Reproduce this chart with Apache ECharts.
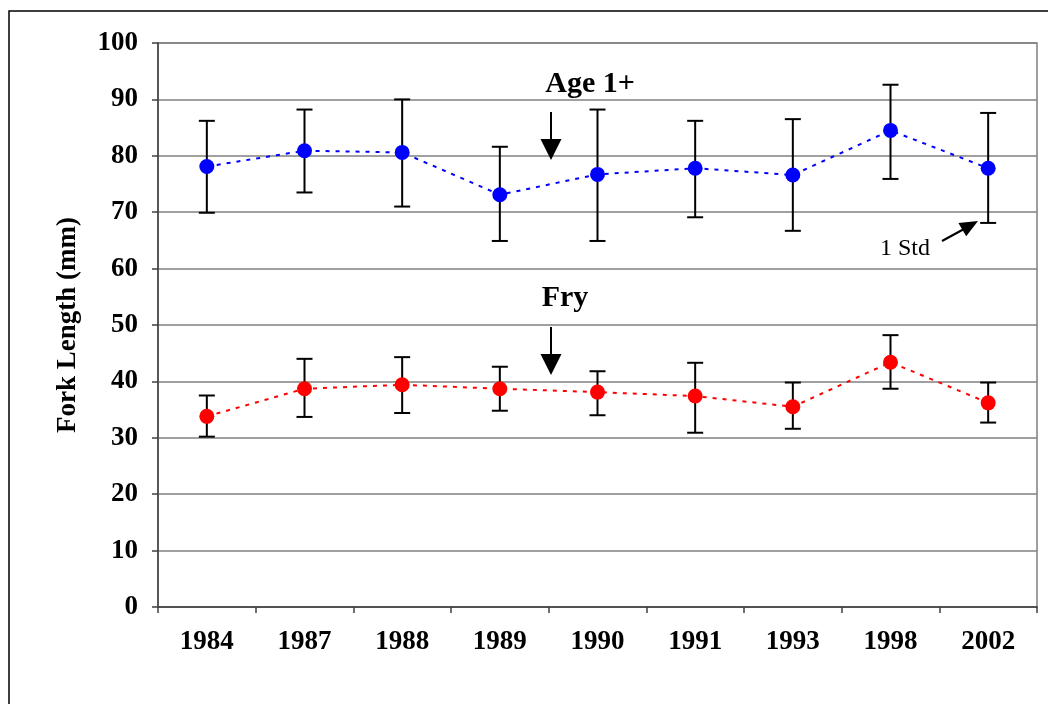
<!DOCTYPE html>
<html>
<head>
<meta charset="utf-8">
<script src="https://cdn.jsdelivr.net/npm/echarts@6/dist/echarts.min.js"></script>
<style>html,body{margin:0;padding:0;background:#fff}#c{width:1048px;height:704px}</style>
</head>
<body>
<div id="c"></div>
<script>
const years = ['1984','1987','1988','1989','1990','1991','1993','1998','2002'];
const ageMean = [78.1, 80.9, 80.6, 73.1, 76.7, 77.8, 76.6, 84.5, 77.8];
const ageHigh = [86.2, 88.2, 90.0, 81.6, 88.2, 86.2, 86.5, 92.6, 87.6];
const ageLow  = [69.9, 73.5, 71.0, 64.9, 64.9, 69.1, 66.7, 75.9, 68.1];
const fryMean = [33.8, 38.7, 39.4, 38.7, 38.1, 37.4, 35.5, 43.4, 36.2];
const fryHigh = [37.5, 44.0, 44.3, 42.6, 41.8, 43.3, 39.8, 48.2, 39.8];
const fryLow  = [30.2, 33.7, 34.4, 34.8, 34.0, 30.9, 31.6, 38.7, 32.7];
const yTicks = [0,10,20,30,40,50,60,70,80,90,100];

const FONT = '"Liberation Serif", "Times New Roman", serif';

function errData(low, high) {
  return years.map((y, i) => [i, low[i], high[i]]);
}
function errRender(params, api) {
  const x = api.value(0);
  const lo = api.coord([x, api.value(1)]);
  const hi = api.coord([x, api.value(2)]);
  const cap = 8;
  const st = {stroke: '#000', lineWidth: 2};
  return {
    type: 'group',
    children: [
      {type: 'line', shape: {x1: lo[0], y1: lo[1], x2: hi[0], y2: hi[1]}, style: st},
      {type: 'line', shape: {x1: hi[0]-cap, y1: hi[1], x2: hi[0]+cap, y2: hi[1]}, style: st},
      {type: 'line', shape: {x1: lo[0]-cap, y1: lo[1], x2: lo[0]+cap, y2: lo[1]}, style: st}
    ]
  };
}

const chart = echarts.init(document.getElementById('c'));
chart.setOption({
  animation: false,
  backgroundColor: '#fff',
  grid: {left: 158, top: 43, right: 11, bottom: 97, show: true, borderColor: '#808080', borderWidth: 1.5},
  xAxis: {
    type: 'category',
    data: years,
    boundaryGap: true,
    axisLine: {lineStyle: {color: '#404040', width: 1.5}},
    axisTick: {show: true, length: 6, lineStyle: {color: '#404040', width: 1.5}},
    axisLabel: {color: '#000', fontFamily: FONT, fontWeight: 'bold', fontSize: 27, margin: 22}
  },
  yAxis: {
    type: 'value',
    min: 0, max: 100, interval: 10,
    name: 'Fork Length (mm)',
    nameLocation: 'middle',
    nameGap: 76,
    nameTextStyle: {color: '#000', fontFamily: FONT, fontWeight: 'bold', fontSize: 27},
    axisLine: {show: true, lineStyle: {color: '#404040', width: 1.5}},
    axisTick: {show: true, length: 6, lineStyle: {color: '#404040', width: 1.5}},
    axisLabel: {color: '#000', fontFamily: FONT, fontWeight: 'bold', fontSize: 27, margin: 20,
      formatter: v => yTicks.includes(v) ? String(v) : ''},
    splitLine: {show: true, lineStyle: {color: '#808080', width: 1.5}}
  },
  series: [
    {type: 'custom', name: 'ageErr', renderItem: errRender, data: errData(ageLow, ageHigh), z: 2,
      encode: {x: 0, y: [1, 2]}},
    {type: 'custom', name: 'fryErr', renderItem: errRender, data: errData(fryLow, fryHigh), z: 2,
      encode: {x: 0, y: [1, 2]}},
    {type: 'line', name: 'Age 1+', data: ageMean, symbol: 'circle', symbolSize: 15, z: 3,
      lineStyle: {color: '#0000ff', width: 2, type: [4, 6]}, itemStyle: {color: '#0000ff'}},
    {type: 'line', name: 'Fry', data: fryMean, symbol: 'circle', symbolSize: 15, z: 3,
      lineStyle: {color: '#ff0000', width: 2, type: [4, 6]}, itemStyle: {color: '#ff0000'}}
  ],
  graphic: [
    {type: 'rect', shape: {x: 9, y: 11, width: 1200, height: 900}, style: {fill: 'none', stroke: '#000', lineWidth: 1.5}, silent: true, z: 0},
    {type: 'text', x: 590, y: 84, style: {text: 'Age 1+', font: 'bold 30px ' + FONT, fill: '#000', align: 'center', verticalAlign: 'middle'}, z: 10},
    {type: 'line', shape: {x1: 551, y1: 112, x2: 551, y2: 141}, style: {stroke: '#000', lineWidth: 2}, z: 10},
    {type: 'polygon', shape: {points: [[540.5, 139], [561.5, 139], [551, 160]]}, style: {fill: '#000'}, z: 10},
    {type: 'text', x: 565, y: 298, style: {text: 'Fry', font: 'bold 30px ' + FONT, fill: '#000', align: 'center', verticalAlign: 'middle'}, z: 10},
    {type: 'line', shape: {x1: 551, y1: 327, x2: 551, y2: 356}, style: {stroke: '#000', lineWidth: 2}, z: 10},
    {type: 'polygon', shape: {points: [[540.5, 354], [561.5, 354], [551, 375]]}, style: {fill: '#000'}, z: 10},
    {type: 'text', x: 905, y: 249, style: {text: '1 Std', font: '24px ' + FONT, fill: '#000', align: 'center', verticalAlign: 'middle'}, z: 10},
    {type: 'line', shape: {x1: 942, y1: 241, x2: 964, y2: 229}, style: {stroke: '#000', lineWidth: 2}, z: 10},
    {type: 'polygon', shape: {points: [[978, 221], [966.2, 236.3], [958.4, 223.1]]}, style: {fill: '#000'}, z: 10}
  ]
});
</script>
</body>
</html>
